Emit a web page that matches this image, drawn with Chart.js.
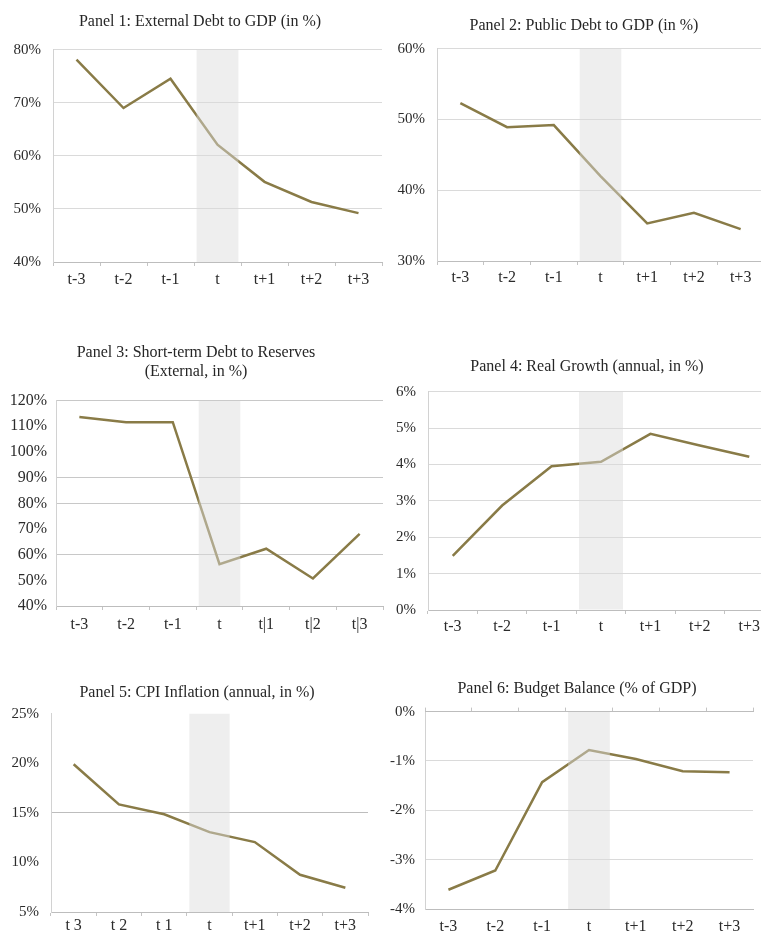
<!DOCTYPE html>
<html>
<head>
<meta charset="utf-8">
<script src="https://cdn.jsdelivr.net/npm/chart.js@4.4.1/dist/chart.umd.min.js"></script>
<style>
  html, body { margin: 0; padding: 0; background: #fff; width: 761px; height: 931px; overflow: hidden; }
  canvas { position: absolute; }
</style>
</head>
<body>
<canvas id="p1"></canvas>
<canvas id="p2"></canvas>
<canvas id="p3"></canvas>
<canvas id="p4"></canvas>
<canvas id="p5"></canvas>
<canvas id="p6"></canvas>
<script>
// categories (as printed under each panel)
const periods = ['t-3', 't-2', 't-1', 't', 't+1', 't+2', 't+3'];
const periodsP3 = ['t-3', 't-2', 't-1', 't', 't|1', 't|2', 't|3'];
const periodsP5 = ['t 3', 't 2', 't 1', 't', 't+1', 't+2', 't+3'];

// series values (in %)
const externalDebt = [78.1, 69.0, 74.5, 62.1, 55.1, 51.3, 49.2];
const publicDebt = [52.3, 48.9, 49.2, 42.0, 35.3, 36.8, 34.5];
const shortTermDebt = [113.6, 111.6, 111.6, 56.3, 62.3, 50.7, 68.1];
const realGrowth = [1.49, 2.87, 3.95, 4.07, 4.84, 4.52, 4.21];
const cpiInflation = [19.9, 15.85, 14.85, 13.05, 12.05, 8.75, 7.45];
const budgetBalance = [-3.61, -3.22, -1.43, -0.78, -0.96, -1.21, -1.23];

// y tick values
const ticksP1 = [40, 50, 60, 70, 80];
const ticksP2 = [30, 40, 50, 60];
const ticksP3 = [40, 50, 60, 70, 80, 90, 100, 110, 120];
const ticksP4 = [0, 1, 2, 3, 4, 5, 6];
const ticksP5 = [5, 10, 15, 20, 25];
const ticksP6 = [-4, -3, -2, -1, 0];

// gridlines that are still visible in the scan
const gridP3 = [120, 90, 80, 60];
const gridP5 = [15];

const titleP1 = 'Panel 1: External Debt to GDP (in %)';
const titleP2 = 'Panel 2: Public Debt to GDP (in %)';
const titleP3 = ['Panel 3: Short-term Debt to Reserves', '(External, in %)'];
const titleP4 = 'Panel 4: Real Growth (annual, in %)';
const titleP5 = 'Panel 5: CPI Inflation (annual, in %)';
const titleP6 = 'Panel 6: Budget Balance (% of GDP)';

const FONT = "'Liberation Serif', 'Times New Roman', serif";
const LINE = '#897b47';
const SHADE = 'rgba(218,218,218,0.47)';
const TITLE_LH = 19.2;
const X_H = 32;

// page geometry of each panel
const boxes = {
  p1: { cl: 0, plotL: 53, plotR: 382, titleX: 200, titleC: 22, plotT: 50, plotB: 262, xPad: 4, yPad: 12 },
  p2: { cl: 380, plotL: 437, plotR: 764, titleX: 584, titleC: 26, plotT: 49, plotB: 261, xPad: 3, yPad: 12 },
  p3: { cl: 0, plotL: 56, plotR: 383, titleX: 196, titleC: 353, plotT: 401, plotB: 606, xPad: 5, yPad: 9 },
  p4: { cl: 380, plotL: 428, plotR: 774, titleX: 587, titleC: 367, plotT: 392, plotB: 610, xPad: 3, yPad: 12 },
  p5: { cl: 0, plotL: 51, plotR: 368, titleX: 197, titleC: 693, plotT: 714, plotB: 912, xPad: 0, yPad: 12 },
  p6: { cl: 380, plotL: 425, plotR: 753, titleX: 577, titleC: 689, plotT: 712, plotB: 909, xPad: 4, yPad: 10 }
};

var makePanel = function (id, labels, values, yTicks, title, opts) {
  opts = opts || {};
  const b = boxes[id];
  const lines = Array.isArray(title) ? title.length : 1;
  const top = b.titleC - TITLE_LH / 2;
  const width = 2 * (b.titleX - b.cl);
  const rightW = width - (b.plotR - b.cl);
  const canvas = document.getElementById(id);
  canvas.width = width;
  canvas.height = Math.round(b.plotB - top + X_H);
  canvas.style.left = b.cl + 'px';
  canvas.style.top = top + 'px';

  const yMin = yTicks[0];
  const yMax = yTicks[yTicks.length - 1];
  const band = labels.map((l, i) => i === 3 ? [yMin, yMax] : null);

  const scales = {
    x: {
      type: 'category',
      offset: true,
      grid: { offset: true, drawOnChartArea: false, drawTicks: !opts.topAxis, tickLength: 4, color: '#c4c4c4' },
      border: { color: '#bdbdbd' },
      ticks: { color: '#2b2b2b', font: { family: FONT, size: 16 }, padding: opts.topAxis ? b.xPad + 4 : b.xPad, maxRotation: 0, autoSkip: false },
      afterFit: function (s) { s.height = X_H; }
    },
    y: {
      min: yMin,
      max: yMax,
      afterBuildTicks: function (s) { s.ticks = yTicks.map(v => ({ value: v })); },
      grid: {
        drawTicks: false,
        color: function (c) {
          if (opts.grid && !opts.grid.includes(c.tick.value)) return 'rgba(0,0,0,0)';
          return opts.gridColor || '#dadada';
        }
      },
      border: { color: '#d2d2d2' },
      ticks: {
        color: '#2b2b2b',
        font: { family: FONT, size: opts.yFont || 15 },
        padding: b.yPad,
        callback: function (v) { return v + '%'; }
      },
      afterFit: function (s) { s.width = b.plotL - b.cl; }
    },
    // empty spacer on the right so the title sits where it does in the source
    yRight: {
      position: 'right',
      grid: { display: false },
      border: { display: false },
      ticks: { display: false },
      afterFit: function (s) { s.width = rightW; }
    }
  };
  if (opts.topAxis) {
    scales.xTop = {
      type: 'category',
      position: 'top',
      offset: true,
      grid: { offset: true, drawOnChartArea: false, tickLength: 4, color: '#c4c4c4' },
      border: { color: '#bdbdbd' },
      ticks: { display: false },
      afterFit: function (s) { s.height = 0; }
    };
  }

  return new Chart(canvas, {
    type: 'line',
    data: {
      labels: labels,
      datasets: [{
        type: 'bar',
        data: band,
        backgroundColor: SHADE,
        borderWidth: 0,
        barPercentage: 1,
        categoryPercentage: 0.89,
        order: 0
      }, {
        type: 'line',
        data: values,
        borderColor: LINE,
        borderWidth: 2.5,
        pointRadius: 0,
        tension: 0,
        order: 1
      }]
    },
    options: {
      responsive: false,
      animation: false,
      layout: { padding: 0 },
      plugins: {
        legend: { display: false },
        tooltip: { enabled: false },
        title: {
          display: true,
          text: title,
          color: '#262626',
          font: { family: FONT, size: 16, weight: 'normal', lineHeight: 1.2 },
          padding: { top: 0, bottom: b.plotT - top - lines * TITLE_LH }
        }
      },
      scales: scales
    }
  });
}

const chart1 = makePanel('p1', periods, externalDebt, ticksP1, titleP1);
const chart2 = makePanel('p2', periods, publicDebt, ticksP2, titleP2);
const chart3 = makePanel('p3', periodsP3, shortTermDebt, ticksP3, titleP3, { grid: gridP3, gridColor: '#c8c8c8', yFont: 16 });
const chart4 = makePanel('p4', periods, realGrowth, ticksP4, titleP4);
const chart5 = makePanel('p5', periodsP5, cpiInflation, ticksP5, titleP5, { grid: gridP5, gridColor: '#bdbdbd' });
const chart6 = makePanel('p6', periods, budgetBalance, ticksP6, titleP6, { topAxis: true });
</script>
</body>
</html>
